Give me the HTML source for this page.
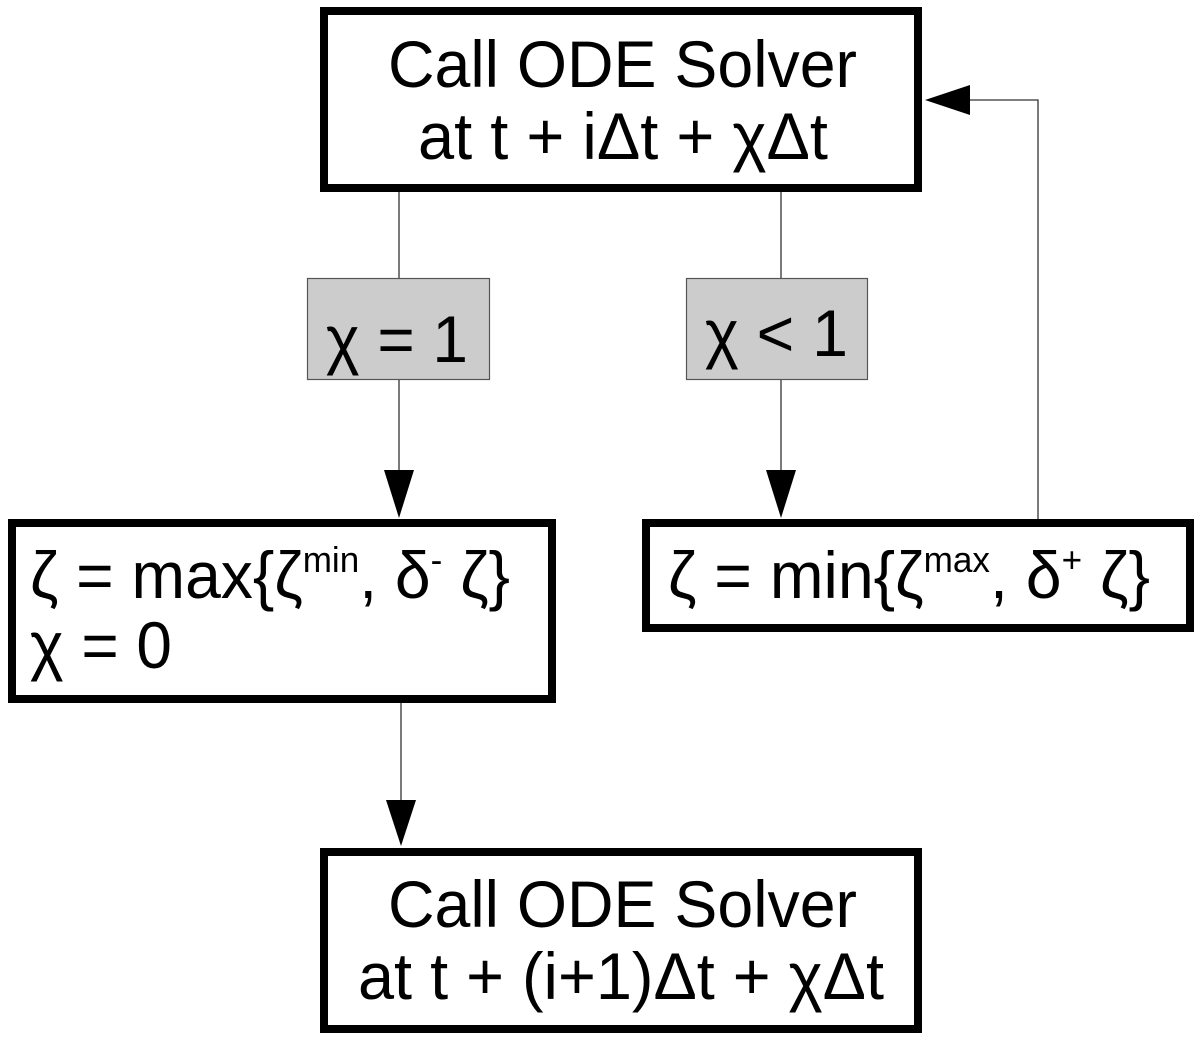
<!DOCTYPE html>
<html><head><meta charset="utf-8"><style>html,body{margin:0;padding:0;background:#fff}svg{display:block}</style></head>
<body>
<svg width="1200" height="1041" viewBox="0 0 1200 1041" xmlns="http://www.w3.org/2000/svg" font-family="Liberation Sans, DejaVu Sans, sans-serif" fill="#000">
<g stroke="#333" stroke-width="1.3">
<line x1="399" y1="191" x2="399" y2="278"/>
<line x1="399" y1="380" x2="399" y2="472"/>
<line x1="781" y1="191" x2="781" y2="278"/>
<line x1="781" y1="380" x2="781" y2="472"/>
<line x1="401" y1="703" x2="401" y2="802"/>
<polyline points="1038,519 1038,100 968,100" fill="none"/>
</g>
<polygon points="384,470 414,470 399,518"/>
<polygon points="766,470 796,470 781,518"/>
<polygon points="386,800 416,800 401,846"/>
<polygon points="970,85 970,115 925,100"/>
<rect x="324" y="11" width="594" height="177" fill="#fff" stroke="#000" stroke-width="8"/>
<rect x="307.5" y="278.5" width="182" height="101" fill="#cccccc" stroke="#555" stroke-width="1.2"/>
<rect x="686.5" y="278.5" width="181" height="101" fill="#cccccc" stroke="#555" stroke-width="1.2"/>
<rect x="12" y="523" width="540" height="176" fill="#fff" stroke="#000" stroke-width="8"/>
<rect x="646" y="523" width="544" height="105" fill="#fff" stroke="#000" stroke-width="8"/>
<rect x="324" y="852" width="594" height="177" fill="#fff" stroke="#000" stroke-width="8"/>
<g font-size="66">
<text x="388" y="87" textLength="469" lengthAdjust="spacingAndGlyphs">Call ODE Solver</text>
<text x="418" y="159" textLength="410" lengthAdjust="spacingAndGlyphs">at t + iΔt + χΔt</text>
<text x="326" y="362" textLength="142" lengthAdjust="spacingAndGlyphs">χ = 1</text>
<text x="705" y="356" textLength="143" lengthAdjust="spacingAndGlyphs">χ &lt; 1</text>
<text x="30" y="598" textLength="480" lengthAdjust="spacingAndGlyphs">ζ = max{ζ<tspan font-size="36" dy="-26">min</tspan><tspan dy="26">, δ</tspan><tspan font-size="36" dy="-26">-</tspan><tspan dy="26"> ζ}</tspan></text>
<text x="30" y="668" textLength="142" lengthAdjust="spacingAndGlyphs">χ = 0</text>
<text x="668" y="598" textLength="482" lengthAdjust="spacingAndGlyphs">ζ = min{ζ<tspan font-size="36" dy="-26">max</tspan><tspan dy="26">, δ</tspan><tspan font-size="36" dy="-26">+</tspan><tspan dy="26"> ζ}</tspan></text>
<text x="388" y="927" textLength="469" lengthAdjust="spacingAndGlyphs">Call ODE Solver</text>
<text x="358" y="999" textLength="526" lengthAdjust="spacingAndGlyphs">at t + (i+1)Δt + χΔt</text>
</g>
</svg>
</body></html>
